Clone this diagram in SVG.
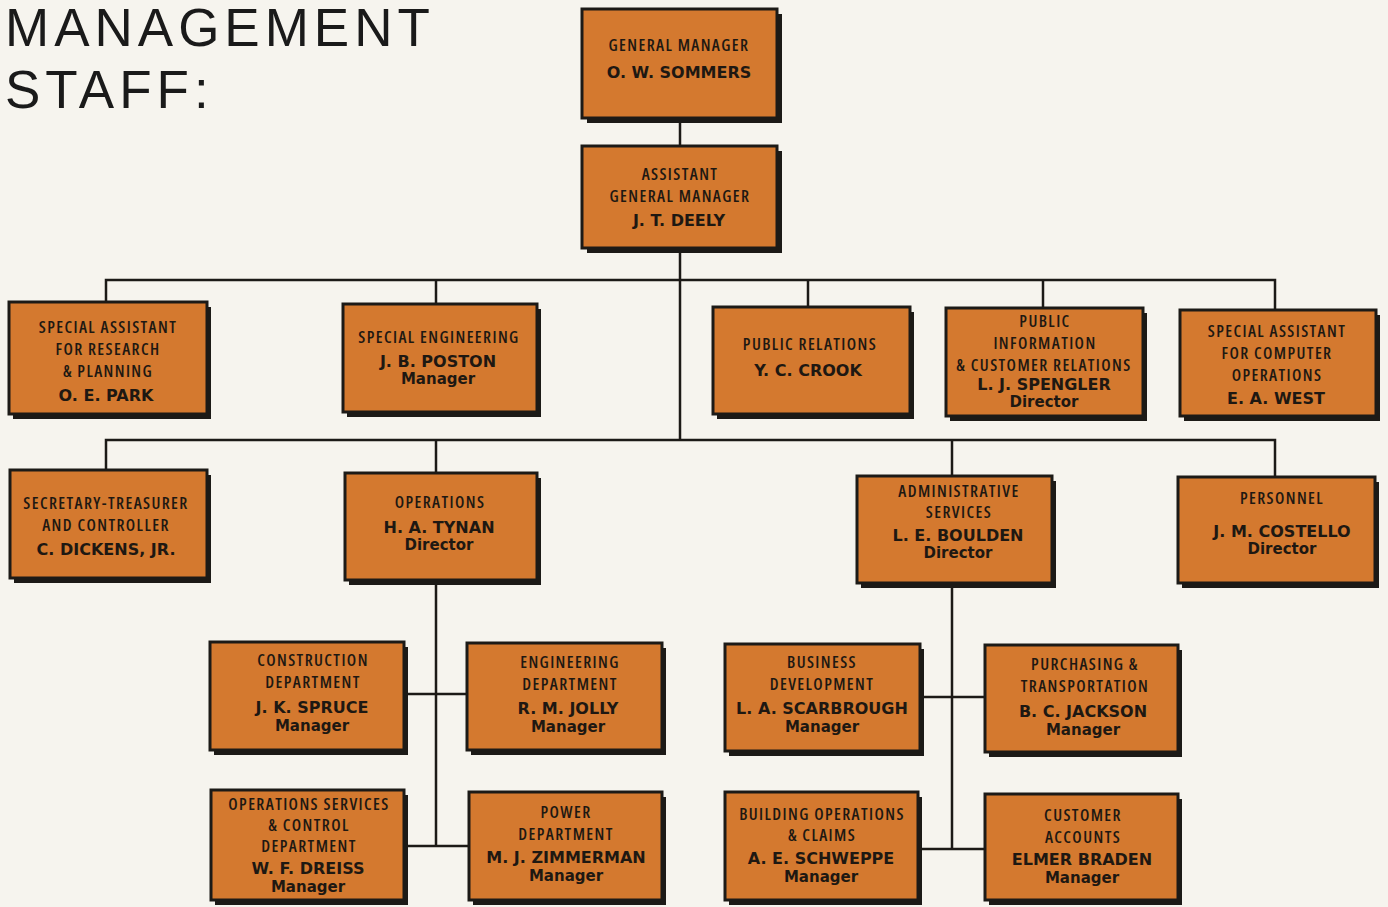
<svg xmlns="http://www.w3.org/2000/svg" width="1388" height="907" viewBox="0 0 1388 907">
<style>
.bg{fill:#f6f4ee}
.sh{fill:#1c1a17}
.bx{fill:#d4792f;stroke:#1c1a17;stroke-width:3}
.lb{font-family:"Open Sans","Noto Sans","Liberation Sans",sans-serif;font-stretch:75%;font-weight:600;font-size:16.5px;letter-spacing:1.4px;fill:#1e1812;text-anchor:middle}
.nm{font-family:"DejaVu Sans","Liberation Sans",Arial,sans-serif;font-weight:bold;font-size:16px;fill:#1e1812;text-anchor:middle}
.rl{font-family:"DejaVu Sans","Liberation Sans",Arial,sans-serif;font-weight:bold;font-size:15px;fill:#1e1812;text-anchor:middle}
.ttl{font-family:"Liberation Sans",Arial,sans-serif;font-size:53px;letter-spacing:5px;fill:#1a1a1a}
.cn{stroke:#1c1a17;stroke-width:2.5;fill:none}
</style>
<rect class="bg" x="0" y="0" width="1388" height="907"/>
<g id="title">
<text class="ttl" x="5" y="46">MANAGEMENT</text>
<text class="ttl" x="5" y="108">STAFF:</text>
</g>
<g id="connectors">
<line class="cn" x1="680" y1="118" x2="680" y2="146"/>
<line class="cn" x1="680" y1="248" x2="680" y2="440"/>
<polyline class="cn" points="106,302 106,280 1275,280 1275,310"/>
<line class="cn" x1="436" y1="280" x2="436" y2="304"/>
<line class="cn" x1="808" y1="280" x2="808" y2="307"/>
<line class="cn" x1="1043" y1="280" x2="1043" y2="308"/>
<polyline class="cn" points="106,470 106,440 1275,440 1275,477"/>
<line class="cn" x1="436" y1="440" x2="436" y2="473"/>
<line class="cn" x1="952" y1="440" x2="952" y2="476"/>
<line class="cn" x1="436" y1="580" x2="436" y2="846"/>
<line class="cn" x1="404" y1="694" x2="467" y2="694"/>
<line class="cn" x1="404" y1="846" x2="469" y2="846"/>
<line class="cn" x1="952" y1="583" x2="952" y2="849"/>
<line class="cn" x1="920" y1="697" x2="985" y2="697"/>
<line class="cn" x1="918" y1="849" x2="985" y2="849"/>
</g>
<g id="general-manager">
<rect class="sh" x="587" y="14" width="195" height="109"/>
<rect class="bx" x="582" y="9" width="195" height="109"/>
<text class="lb" x="679" y="51">GENERAL MANAGER</text>
<text class="nm" x="679" y="78">O. W. SOMMERS</text>
</g>
<g id="assistant-gm">
<rect class="sh" x="587" y="151" width="195" height="102"/>
<rect class="bx" x="582" y="146" width="195" height="102"/>
<text class="lb" x="680" y="180">ASSISTANT</text>
<text class="lb" x="680" y="202">GENERAL MANAGER</text>
<text class="nm" x="679" y="226">J. T. DEELY</text>
</g>
<g id="sa-research">
<rect class="sh" x="13" y="307" width="198" height="112"/>
<rect class="bx" x="9" y="302" width="198" height="112"/>
<text class="lb" x="108" y="333">SPECIAL ASSISTANT</text>
<text class="lb" x="108" y="355">FOR RESEARCH</text>
<text class="lb" x="108" y="377">&amp; PLANNING</text>
<text class="nm" x="106" y="401">O. E. PARK</text>
</g>
<g id="special-engineering">
<rect class="sh" x="347" y="309" width="194" height="108"/>
<rect class="bx" x="343" y="304" width="194" height="108"/>
<text class="lb" x="439" y="343">SPECIAL ENGINEERING</text>
<text class="nm" x="438" y="367">J. B. POSTON</text>
<text class="rl" x="438" y="384">Manager</text>
</g>
<g id="public-relations">
<rect class="sh" x="717" y="312" width="197" height="107"/>
<rect class="bx" x="713" y="307" width="197" height="107"/>
<text class="lb" x="810" y="350">PUBLIC RELATIONS</text>
<text class="nm" x="808" y="376">Y. C. CROOK</text>
</g>
<g id="public-information">
<rect class="sh" x="950" y="313" width="197" height="108"/>
<rect class="bx" x="946" y="308" width="197" height="108"/>
<text class="lb" x="1045" y="327">PUBLIC</text>
<text class="lb" x="1045" y="349">INFORMATION</text>
<text class="lb" x="1044" y="371">&amp; CUSTOMER RELATIONS</text>
<text class="nm" x="1044" y="390">L. J. SPENGLER</text>
<text class="rl" x="1044" y="407">Director</text>
</g>
<g id="sa-computer">
<rect class="sh" x="1184" y="315" width="196" height="106"/>
<rect class="bx" x="1180" y="310" width="196" height="106"/>
<text class="lb" x="1277" y="337">SPECIAL ASSISTANT</text>
<text class="lb" x="1277" y="359">FOR COMPUTER</text>
<text class="lb" x="1277" y="381">OPERATIONS</text>
<text class="nm" x="1276" y="404">E. A. WEST</text>
</g>
<g id="secretary-treasurer">
<rect class="sh" x="14" y="475" width="197" height="108"/>
<rect class="bx" x="10" y="470" width="197" height="108"/>
<text class="lb" x="106" y="509">SECRETARY-TREASURER</text>
<text class="lb" x="106" y="531">AND CONTROLLER</text>
<text class="nm" x="106" y="555">C. DICKENS, JR.</text>
</g>
<g id="operations">
<rect class="sh" x="349" y="478" width="192" height="107"/>
<rect class="bx" x="345" y="473" width="192" height="107"/>
<text class="lb" x="440" y="508">OPERATIONS</text>
<text class="nm" x="439" y="533">H. A. TYNAN</text>
<text class="rl" x="439" y="550">Director</text>
</g>
<g id="administrative-services">
<rect class="sh" x="861" y="481" width="195" height="107"/>
<rect class="bx" x="857" y="476" width="195" height="107"/>
<text class="lb" x="959" y="497">ADMINISTRATIVE</text>
<text class="lb" x="959" y="518">SERVICES</text>
<text class="nm" x="958" y="541">L. E. BOULDEN</text>
<text class="rl" x="958" y="558">Director</text>
</g>
<g id="personnel">
<rect class="sh" x="1182" y="482" width="197" height="106"/>
<rect class="bx" x="1178" y="477" width="197" height="106"/>
<text class="lb" x="1282" y="504">PERSONNEL</text>
<text class="nm" x="1282" y="537">J. M. COSTELLO</text>
<text class="rl" x="1282" y="554">Director</text>
</g>
<g id="construction">
<rect class="sh" x="214" y="647" width="194" height="108"/>
<rect class="bx" x="210" y="642" width="194" height="108"/>
<text class="lb" x="313" y="666">CONSTRUCTION</text>
<text class="lb" x="313" y="688">DEPARTMENT</text>
<text class="nm" x="312" y="713">J. K. SPRUCE</text>
<text class="rl" x="312" y="731">Manager</text>
</g>
<g id="engineering">
<rect class="sh" x="471" y="648" width="195" height="107"/>
<rect class="bx" x="467" y="643" width="195" height="107"/>
<text class="lb" x="570" y="668">ENGINEERING</text>
<text class="lb" x="570" y="690">DEPARTMENT</text>
<text class="nm" x="568" y="714">R. M. JOLLY</text>
<text class="rl" x="568" y="732">Manager</text>
</g>
<g id="operations-services">
<rect class="sh" x="215" y="795" width="193" height="110"/>
<rect class="bx" x="211" y="790" width="193" height="110"/>
<text class="lb" x="309" y="810">OPERATIONS SERVICES</text>
<text class="lb" x="309" y="831">&amp; CONTROL</text>
<text class="lb" x="309" y="852">DEPARTMENT</text>
<text class="nm" x="308" y="874">W. F. DREISS</text>
<text class="rl" x="308" y="892">Manager</text>
</g>
<g id="power">
<rect class="sh" x="473" y="797" width="193" height="108"/>
<rect class="bx" x="469" y="792" width="193" height="108"/>
<text class="lb" x="566" y="818">POWER</text>
<text class="lb" x="566" y="840">DEPARTMENT</text>
<text class="nm" x="566" y="863">M. J. ZIMMERMAN</text>
<text class="rl" x="566" y="881">Manager</text>
</g>
<g id="business-development">
<rect class="sh" x="729" y="649" width="195" height="107"/>
<rect class="bx" x="725" y="644" width="195" height="107"/>
<text class="lb" x="822" y="668">BUSINESS</text>
<text class="lb" x="822" y="690">DEVELOPMENT</text>
<text class="nm" x="822" y="714">L. A. SCARBROUGH</text>
<text class="rl" x="822" y="732">Manager</text>
</g>
<g id="purchasing">
<rect class="sh" x="989" y="650" width="193" height="107"/>
<rect class="bx" x="985" y="645" width="193" height="107"/>
<text class="lb" x="1085" y="670">PURCHASING &amp;</text>
<text class="lb" x="1085" y="692">TRANSPORTATION</text>
<text class="nm" x="1083" y="717">B. C. JACKSON</text>
<text class="rl" x="1083" y="735">Manager</text>
</g>
<g id="building-operations">
<rect class="sh" x="729" y="797" width="193" height="108"/>
<rect class="bx" x="725" y="792" width="193" height="108"/>
<text class="lb" x="822" y="820">BUILDING OPERATIONS</text>
<text class="lb" x="822" y="841">&amp; CLAIMS</text>
<text class="nm" x="821" y="864">A. E. SCHWEPPE</text>
<text class="rl" x="821" y="882">Manager</text>
</g>
<g id="customer-accounts">
<rect class="sh" x="989" y="799" width="193" height="106"/>
<rect class="bx" x="985" y="794" width="193" height="106"/>
<text class="lb" x="1083" y="821">CUSTOMER</text>
<text class="lb" x="1083" y="843">ACCOUNTS</text>
<text class="nm" x="1082" y="865">ELMER  BRADEN</text>
<text class="rl" x="1082" y="883">Manager</text>
</g>
</svg>
